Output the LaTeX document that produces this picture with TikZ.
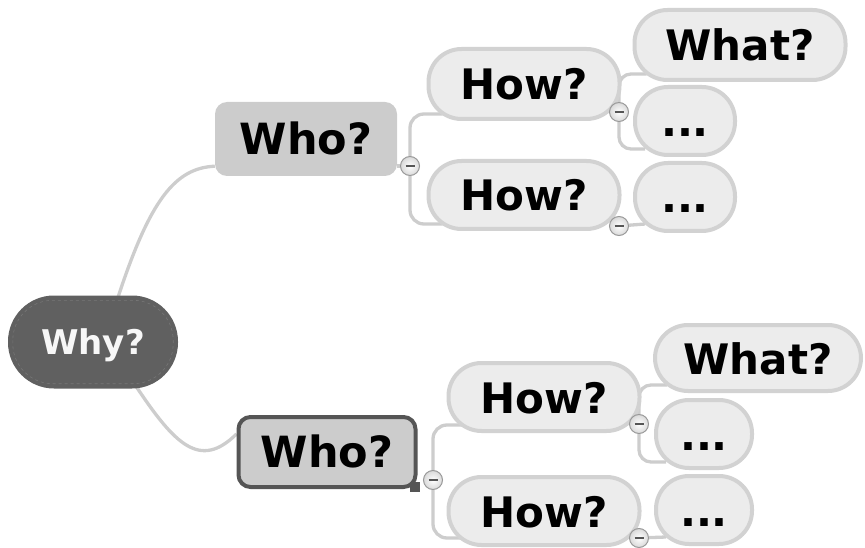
\documentclass[tikz,border=0pt]{standalone}
\usepackage{fontspec}
\setmainfont{DejaVu Sans}
\usetikzlibrary{backgrounds}
\definecolor{connc}{HTML}{CDCDCD}
\definecolor{pillfill}{HTML}{ECECEC}
\definecolor{pilldraw}{HTML}{D2D2D2}
\definecolor{whofill}{HTML}{CCCCCC}
\definecolor{whydark}{HTML}{606060}
\definecolor{darkbord}{HTML}{555555}
\begin{document}
\begin{tikzpicture}[x=1pt,y=-1pt,
  conn/.style={draw=connc,line width=3.3pt},
  pill/.style={draw=pilldraw,fill=pillfill,line width=4pt,rounded corners=33pt,inner sep=0pt,
     text height=32pt,text depth=0pt,
     font=\fontsize{42}{48}\selectfont\bfseries},
  whobox/.style={fill=whofill,rounded corners=12pt,inner sep=0pt,minimum width=182pt,minimum height=74pt,
     text height=31pt,text depth=0pt,
     font=\fontsize{43}{48}\selectfont\bfseries},
  minusc/.style={circle,draw=gray!80,line width=1pt,inner color=white,outer color=gray!30,minimum size=19pt,inner sep=0pt,
     path picture={\draw[darkbord,line width=2pt] ([xshift=-4.5pt]path picture bounding box.center) -- ([xshift=4.5pt]path picture bounding box.center);}}
]
\useasboundingbox (0,0) rectangle (865,548);
% nodes
\node[fill=whydark,rounded corners=46pt,minimum width=170pt,minimum height=93pt,inner sep=0pt,
      text height=25pt,text depth=0pt,
      text=white!94!gray,font=\fontsize{34}{40}\selectfont\bfseries] (why) at (93,342) {Why?};
\draw[gray!70!whydark,dashed,line width=0.6pt,rounded corners=40pt]
  ([xshift=5pt,yshift=-5pt]why.north west) rectangle ([xshift=-5pt,yshift=5pt]why.south east);
\node[whobox] (who1) at (306,139) {Who?};
\node[whobox,draw=darkbord,line width=4pt,minimum width=177pt,minimum height=70pt] (who2) at (327,452) {Who?};
\node[fill=darkbord,minimum size=10pt,inner sep=0pt] (handle) at (415,487) {};

\node[pill,minimum width=191pt,minimum height=70pt] (how1) at (524,84) {How?};
\node[pill,minimum width=191pt,minimum height=68pt] (how2) at (524,195) {How?};
\node[pill,minimum width=211pt,minimum height=70pt] (what1) at (740,45) {What?};
\node[pill,minimum width=100pt,minimum height=68pt] (dotsA) at (685,121) {...};
\node[pill,minimum width=100pt,minimum height=68pt] (dotsB) at (685,197) {...};

\node[pill,minimum width=191pt,minimum height=68pt] (how3) at (544,397) {How?};
\node[pill,minimum width=191pt,minimum height=68pt] (how4) at (544,511) {How?};
\node[pill,minimum width=206pt,minimum height=66pt] (what2) at (758,358) {What?};
\node[pill,minimum width=96pt,minimum height=68pt] (dotsC) at (704,434) {...};
\node[pill,minimum width=96pt,minimum height=68pt] (dotsD) at (704,510) {...};

% minus circles
\node[minusc] (m1) at (410,166) {};
\node[minusc] (m2) at (619,112) {};
\node[minusc] (m3) at (619,226) {};
\node[minusc] (m4) at (433,480) {};
\node[minusc] (m5) at (639,424) {};
\node[minusc] (m6) at (639,538) {};

\begin{scope}[on background layer]
\draw[conn] ([xshift=25pt,yshift=-2pt]why.north) .. controls (150,200) and (175,168) .. ([yshift=10pt]who1.west |- who1.south);
\draw[conn] ([xshift=42pt,yshift=4pt]why.south) .. controls (175,445) and (200,470) .. ([yshift=18pt]who2.west);
\draw[conn] (who1.east |- m1) -- (m1);
\draw[conn,rounded corners=14pt] ([xshift=16pt,yshift=7pt]how1.south west) -| (m1) |- ([xshift=16pt,yshift=7pt]how2.south west);
\draw[conn,rounded corners=12pt] ([xshift=14pt,yshift=8pt]what1.south west) -| (m2) |- ([xshift=12pt,yshift=8pt]dotsA.south west);
\draw[conn] (m3) -- ([xshift=12pt,yshift=9pt]dotsB.south west);
\draw[conn,rounded corners=14pt] ([xshift=16pt,yshift=8pt]how3.south west) -| (m4) |- ([xshift=16pt,yshift=9pt]how4.south west);
\draw[conn,rounded corners=12pt] ([xshift=14pt,yshift=8pt]what2.south west) -| (m5) |- ([xshift=12pt,yshift=8pt]dotsC.south west);
\draw[conn] (m6) -- ([xshift=12pt,yshift=9pt]dotsD.south west);
\end{scope}
\end{tikzpicture}
\end{document}
